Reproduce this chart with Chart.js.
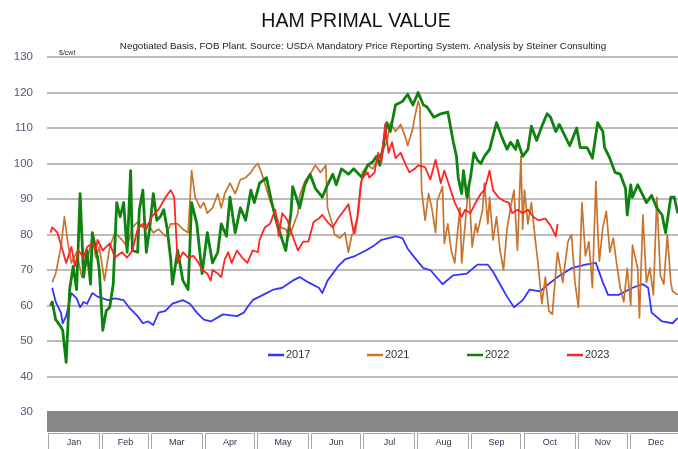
<!DOCTYPE html>
<html>
<head>
<meta charset="utf-8">
<script src="https://cdn.jsdelivr.net/npm/chart.js@4"></script>
<style>
  html, body { margin: 0; padding: 0; background: #fff; overflow: hidden; }
  #wrap { width: 683px; height: 449px; }
</style>
</head>
<body>
<div id="wrap"><canvas id="c" width="683" height="449"></canvas></div>
<script>
// ---- data (x = day of year, y = $/cwt) ----
const chartTitle = 'HAM PRIMAL VALUE';
const chartSubtitle = 'Negotiated Basis, FOB Plant. Source: USDA Mandatory Price Reporting System. Analysis by Steiner Consulting';
const unitLabel = '$/cwt';
const months = ['Jan','Feb','Mar','Apr','May','Jun','Jul','Aug','Sep','Oct','Nov','Dec'];
const monthStartDays = [0,31,59,90,120,151,181,212,243,273,304,334,365];
const yTicks = [30,40,50,60,70,80,90,100,110,120,130];
const seriesNames = ['2017','2021','2022','2023'];

const days2017 = [3,5,8,9,11,14,17,19,21,23,26,29,35,39,44,47,52,55,58,61,64,68,72,78,82,86,90,94,101,109,113,115,118,124,130,135,141,145,150,156,158,161,167,171,177,183,188,192,196,200,204,207,211,216,220,227,233,241,247,253,256,260,264,268,273,277,283,289,293,301,309,315,319,322,328,336,342,345,347,353,359,362];
const val2017 = [65,61,58,55,57,63.5,62,59.5,61,60.5,63.5,62.5,61.5,62,61.5,59.5,57,55,55.5,54.5,58,58.5,60.5,61.5,60.5,58,56,55.5,57.5,57,58,59.5,61.5,63,64.5,65,67,68,66.5,65,63.5,67,71,73,74,75.5,77,78.5,79,79.5,79,76,73.5,70.5,70,66,68.5,69,71.5,71.5,69.5,66,62.5,59.5,61.5,64.5,64,66.5,68,70.5,71.5,72,66.5,63,63,65,66,65,58,55.5,55,56.5];

const days2021 = [3,5,8,10,12,14,17,20,23,26,28,30,33,36,39,43,46,49,52,55,58,61,64,68,71,75,78,81,83,85,88,90,92,95,98,100,102,105,108,111,114,117,119,121,123,125,128,131,134,137,139,141,144,145,148,151,154,157,160,161,164,165,168,171,173,175,177,179,181,184,187,189,192,195,197,200,203,206,207,210,211,213,214,215,217,219,221,223,224,227,228,230,232,234,235,237,238,240,242,244,246,247,250,251,253,254,256,258,260,262,264,266,268,270,272,273,274,276,278,280,282,284,286,288,290,292,293,296,297,299,301,303,305,307,309,311,313,315,316,317,319,321,323,325,327,329,331,333,335,336,339,340,342,344,346,348,350,352,354,356,358,359,362];
const val2021 = [66.5,69,76.5,85,77.5,72,75,68,72,79.5,73.5,76.5,67,76.5,80.5,78.5,76.5,82,83.5,82,83,80.5,81.5,79.5,83,83,81.5,80.5,98,90.5,87.5,89,86,87.5,91.5,87.5,91.5,94.5,91.5,95.5,96,97.5,99,100,97.5,94.5,89.5,86,82,81.5,79.5,82,86,91,95,97,99.5,97.5,99.5,87.5,82.5,80,79,80.5,75,80,80.5,87.5,97.5,99.5,98.5,100.5,103,106,111.5,109,111,107,105,110,113,117.5,116,92.5,84,91.5,87,80.5,89.5,93.5,77.5,83,75.5,72,77.5,87.5,72,83,94.5,76.5,83,80.5,87,94.5,83,90.5,78.5,85,75.5,70,81.5,87.5,92.5,75.5,102,81.5,92.5,83,89,79.5,71,60.5,68,58.5,57.5,69.5,75,66.5,70.5,78,80,66.5,59.5,89,74,78,65,95,82,72.5,82,86.5,75,79,71.5,65,61,70.5,60,77,70.5,56.5,85.5,66.5,70.5,63,90.5,68.5,66,80,66.5,64,63];

const days2022 = [2,3,5,8,9,11,13,15,17,19,21,23,25,26,29,30,32,34,36,38,40,42,44,46,48,49,52,53,55,57,59,61,63,65,67,69,71,72,75,78,81,83,86,89,92,95,98,100,103,105,108,111,114,117,119,122,126,129,132,135,137,140,141,144,145,148,151,154,158,161,164,166,169,173,176,179,181,184,187,189,191,193,195,197,200,204,207,210,213,216,218,222,226,230,231,233,235,236,238,239,241,243,245,247,249,251,254,258,261,264,266,269,270,273,276,278,281,284,287,289,292,294,297,300,304,306,310,313,316,319,320,323,326,329,332,333,335,336,339,342,344,347,350,353,355,358,360,362];
const val2022 = [60,61,56,54,53,44,64.5,71,64.5,91.5,68,75.5,66,80.5,73.5,70,53,58.5,59.5,66,89,85,89,75,98,75.5,75,87,92.5,75,82,91.5,84,85,87,81.5,73,66,75.5,67,64.5,89,83,69,80.5,72,75,83,79.5,90.5,80.5,87.5,84,92.5,89,94.5,96,89,83,78.5,75.5,86,93.5,89,87.5,94,97,93,90.5,94,97,94,98.5,97,98.5,97,96,99.5,100.5,102,99.5,105,111.5,109,116.5,117.5,119.5,116.5,120,116.5,116,113,114,114.5,112,106.5,102,96,91.5,98,90.5,96,103,101,100,102,104,111.5,107.5,104,106,104,106.5,102,104,110.5,106.5,110.5,114,113,109,111,108,105,110,104.5,104.5,101.5,111.5,109,104.5,101.5,97.5,97,93,85.5,94,90.5,94,91,89,91,87.5,85.5,80.5,90.5,90.5,86];

const days2023 = [2,3,6,9,11,14,16,18,21,23,26,28,29,32,36,39,43,46,49,52,55,57,60,64,68,71,73,75,78,81,84,87,89,92,94,95,98,100,102,104,106,109,112,115,118,121,122,125,128,131,133,135,138,141,144,147,150,153,156,158,161,164,167,170,173,176,178,180,181,184,185,188,190,192,194,196,198,200,203,206,208,211,213,217,220,223,226,228,231,234,236,238,240,243,246,249,251,254,256,259,262,265,267,270,273,276,279,282,286,289,292,293];
const val2023 = [80.5,82,80.5,75.5,72,76.5,71,75.5,73.5,76.5,77.5,75.5,78.5,75.5,77.5,73.5,75,73.5,75.5,81.5,83,81.5,85,87,90.5,92.5,90.5,72,75,73.5,74,72,70,69,67,70,69,68,73,75,72,75.5,73.5,72,75.5,75,78.5,82,83,87,79.5,86,84,79.5,75.5,78,78,83.5,84.5,85.5,83.5,82,84.5,86.5,88.5,80.5,84.5,94,96,97.5,96,97.5,103,100.5,111,103,106,101.5,103,99.5,97.5,98.5,99.5,99,95.5,101,94.5,98,93.5,89,87,85,87,86,89,91.5,92.5,98,92.5,90.5,89.5,89,86,87,86,87,85,84,84.5,82.5,79.5,83];

const colors = { '2017': '#3434ff', '2021': '#c8742f', '2022': '#0f820f', '2023': '#ff2424' };
const widths = { '2017': 1.8, '2021': 1.7, '2022': 2.8, '2023': 1.8 };

function pts(days, vals) { return days.map((d, i) => ({ x: d, y: vals[i] })); }
const dataBySeries = {
  '2017': pts(days2017, val2017),
  '2021': pts(days2021, val2021),
  '2022': pts(days2022, val2022),
  '2023': pts(days2023, val2023)
};

// title, subtitle, unit label
const headerPlugin = {
  id: 'header',
  afterDraw(chart) {
    const ctx = chart.ctx, area = chart.chartArea;
    ctx.save();
    ctx.textAlign = 'center';
    ctx.textBaseline = 'middle';
    ctx.fillStyle = '#111';
    ctx.font = '19.5px "Liberation Sans", Arial, sans-serif';
    ctx.fillText(chartTitle, 356, 22);
    ctx.fillStyle = '#222';
    ctx.font = '9.8px "Liberation Sans", Arial, sans-serif';
    ctx.fillText(chartSubtitle, 363, 46);
    ctx.fillStyle = '#333';
    ctx.font = '7px "Liberation Sans", Arial, sans-serif';
    ctx.textAlign = 'left';
    ctx.fillText(unitLabel, 59, area.top - 4);
    ctx.restore();
  }
};

// month band + cells below the plot
const bandPlugin = {
  id: 'monthBand',
  afterDraw(chart) {
    const ctx = chart.ctx, xs = chart.scales.x, area = chart.chartArea;
    const top = area.bottom - 1, mid = area.bottom + 20, bot = chart.height + 4;
    ctx.save();
    ctx.fillStyle = '#878787';
    ctx.fillRect(area.left, top, chart.width, mid - top);
    ctx.strokeStyle = '#a8a8a8';
    ctx.lineWidth = 1;
    ctx.fillStyle = '#2b3550';
    ctx.font = '9px "Liberation Sans", Arial, sans-serif';
    ctx.textAlign = 'center';
    ctx.textBaseline = 'middle';
    for (let i = 0; i < months.length; i++) {
      const x0 = xs.getPixelForValue(monthStartDays[i]);
      const x1 = xs.getPixelForValue(monthStartDays[i + 1]);
      ctx.strokeRect(Math.round(x0) + 1.5, mid + 1.5, Math.round(x1 - x0) - 3, bot - mid);
      ctx.fillText(months[i], (x0 + x1) / 2, 443);
    }
    ctx.restore();
  }
};

// legend inside plot area
const legendPlugin = {
  id: 'innerLegend',
  afterDraw(chart) {
    const ctx = chart.ctx;
    const starts = [268, 367, 467, 567];
    ctx.save();
    ctx.font = '11px "Liberation Sans", Arial, sans-serif';
    ctx.textBaseline = 'middle';
    ctx.textAlign = 'left';
    seriesNames.forEach((n, i) => {
      const x = starts[i], y = 355;
      ctx.strokeStyle = colors[n];
      ctx.lineWidth = 2.5;
      ctx.beginPath(); ctx.moveTo(x, y); ctx.lineTo(x + 16, y); ctx.stroke();
      ctx.fillStyle = '#333';
      ctx.fillText(n, x + 18, y);
    });
    ctx.restore();
  }
};

new Chart(document.getElementById('c'), {
  type: 'line',
  data: {
    datasets: seriesNames.map((n, i) => ({
      label: n,
      data: dataBySeries[n],
      borderColor: colors[n],
      backgroundColor: colors[n],
      borderWidth: widths[n],
      pointRadius: 0,
      tension: 0,
      fill: false,
      borderJoinStyle: 'round',
      order: 4 - i
    }))
  },
  options: {
    responsive: false,
    animation: false,
    events: [],
    layout: { padding: { left: 0, right: 0, top: 57, bottom: 37 } },
    plugins: {
      legend: { display: false },
      tooltip: { enabled: false },
      title: { display: false },
      subtitle: { display: false }
    },
    scales: {
      x: { type: 'linear', min: 0, max: 365, display: false },
      y: {
        min: 30, max: 130,
        afterBuildTicks: (s) => { s.ticks = yTicks.map(v => ({ value: v })); },
        afterFit: (s) => { s.width = 47; },
        ticks: {
          color: '#4e5a78',
          padding: 14,
          font: { family: '"Liberation Sans", Arial, sans-serif', size: 11.5 }
        },
        grid: { color: '#bcbcbc', lineWidth: 2, drawTicks: false },
        border: { display: false }
      }
    }
  },
  plugins: [headerPlugin, bandPlugin, legendPlugin]
});
</script>
</body>
</html>
